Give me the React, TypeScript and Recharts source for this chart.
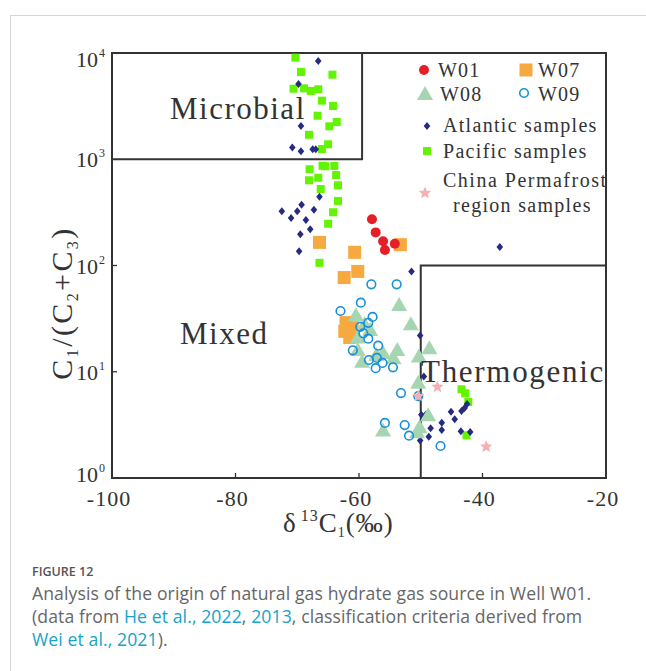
import React from 'react';
import { ScatterChart, Scatter, XAxis, YAxis, ReferenceArea } from 'recharts';

type Pt = { x: number; y: number };
const pts = (a: number[][]): Pt[] => a.map(([x, y]) => ({ x, y }));

// values: [δ13C1 (‰), C1/(C2+C3)]
const w01 = pts([[-57.9, 272], [-57.3, 205], [-56.1, 169], [-55.8, 140], [-54.2, 160]]);
const w07 = pts([
  [-66.4, 165], [-60.7, 133], [-53.3, 157], [-62.4, 77], [-60.2, 88],
  [-62.1, 29], [-61.1, 26], [-62.3, 24], [-61.5, 21],
]);
const w08 = pts([
  [-53.5, 42.5], [-51.6, 28], [-60.5, 34], [-58.2, 24.7], [-60.2, 16], [-57.2, 14.4],
  [-59.5, 12.4], [-56.1, 15], [-53.8, 16], [-54.4, 13.4], [-48.6, 16.6], [-50.3, 13.9],
  [-50.4, 7.9], [-48.8, 3.9], [-50.2, 3.0], [-50.6, 2.7], [-56.1, 2.8], [-59.1, 28], [-60.2, 21],
]);
const w09 = pts([
  [-58, 66.5], [-53.9, 66.5], [-59.7, 44.7], [-63, 37.3], [-57.8, 32.8], [-58.5, 28.9],
  [-59.8, 26.5], [-59.3, 23], [-58.5, 20.5], [-56.9, 17.6], [-61, 15.9], [-57.1, 13.5],
  [-58.4, 12.9], [-56.2, 12.1], [-57.3, 10.8], [-54.5, 11], [-53.2, 6.3], [-50.4, 5.9],
  [-55.8, 3.3], [-52.6, 3.15], [-51.9, 2.5], [-46.8, 2.0],
]);
const atlantic = pts([
  [-66.6, 8400], [-69.8, 5100], [-69.4, 2060], [-70.8, 1290], [-69.4, 1190], [-67.5, 1240],
  [-67, 1240], [-66.4, 444], [-69.3, 373], [-72.5, 324], [-70, 324], [-67.3, 335],
  [-71, 280], [-68.6, 268], [-67.9, 219], [-69.5, 197], [-69.7, 136], [-51.5, 88],
  [-37.2, 149], [-50.1, 21.9], [-50.1, 13.8], [-49.5, 9.0], [-49.9, 3.94], [-49.2, 3.94],
  [-48.4, 2.94], [-50.1, 2.26], [-48.7, 2.45], [-46.6, 3.31], [-46.6, 2.83], [-45.1, 4.2],
  [-44.5, 3.57], [-43.4, 4.27], [-42.9, 4.56], [-42.5, 4.97], [-43.5, 2.75], [-42, 2.71],
]);
const pacific = pts([
  [-70.3, 9040], [-69.4, 6620], [-64.3, 6250], [-70.6, 4610], [-68.9, 4650], [-67.8, 4390],
  [-66.6, 4550], [-66, 3560], [-64.2, 3170], [-66.7, 2570], [-64.8, 2040], [-63.6, 2240],
  [-68.1, 1700], [-65, 1383], [-66, 1248], [-65.9, 869], [-65.5, 859], [-64, 864],
  [-68, 804], [-63.7, 711], [-66.6, 670], [-68.1, 634], [-63.4, 569], [-66.2, 525],
  [-63.4, 405], [-64.2, 317], [-65, 247], [-66.4, 106], [-43.4, 6.84], [-42.8, 6.27],
  [-42.3, 5.19], [-42.6, 2.52],
]);
const permafrost = pts([[-47.3, 7.2], [-50.4, 5.9], [-39.4, 1.97]]);

const xTicks = [-100, -80, -60, -40, -20];
const yTicks = [1, 10, 100, 1000, 10000];

const serif = '"Liberation Serif", "DejaVu Serif", serif';
const ink = '#333';

const starPath = (cx: number, cy: number, r: number) => {
  const p: string[] = [];
  for (let i = 0; i < 10; i++) {
    const rr = i % 2 === 0 ? r : r * 0.45;
    const a = -Math.PI / 2 + (i * Math.PI) / 5;
    p.push(`${cx + rr * Math.cos(a)},${cy + rr * Math.sin(a)}`);
  }
  return 'M' + p.join('L') + 'Z';
};

const RedDot = ({ cx, cy }: any) => <circle cx={cx} cy={cy} r={5} fill="#e61e25" />;
const OrangeSq = ({ cx, cy }: any) => <rect x={cx - 6.5} y={cy - 6.5} width={13} height={13} fill="#f6a93e" />;
const GreenTri = ({ cx, cy }: any) => (
  <polygon points={`${cx},${cy - 8} ${cx + 8},${cy + 6} ${cx - 8},${cy + 6}`} fill="#a6d6b1" />
);
const BlueRing = ({ cx, cy }: any) => (
  <circle cx={cx} cy={cy} r={4.3} fill="none" stroke="#1a8fd9" strokeWidth={1.6} />
);
const Diamond = ({ cx, cy }: any) => (
  <polygon points={`${cx},${cy - 4} ${cx + 3.3},${cy} ${cx},${cy + 4} ${cx - 3.3},${cy}`} fill="#272b80" />
);
const LimeSq = ({ cx, cy }: any) => <rect x={cx - 4} y={cy - 4} width={8} height={8} fill="#62f400" />;
const PinkStar = ({ cx, cy }: any) => <path d={starPath(cx, cy, 6.5)} fill="#f3b1b5" />;

const XTick = ({ x, y, payload }: any) => {
  const v = payload.value;
  return (
    <g>
      {v > -100 && v < -20 && <line x1={x} x2={x} y1={y} y2={y - 5} stroke={ink} strokeWidth={1.3} />}
      <text x={x - 3} y={y + 28} textAnchor="middle" fontFamily={serif} fontSize={22} letterSpacing={1} fill={ink}>
        {v}
      </text>
    </g>
  );
};

const YTick = ({ x, y, payload }: any) => {
  const v = payload.value;
  const e = Math.round(Math.log10(v));
  const base = v === 1 ? y + 4 : v === 10000 ? y + 14 : y + 8;
  return (
    <g>
      {v > 1 && v < 1000 && <line x1={x} x2={x + 5} y1={y} y2={y} stroke={ink} strokeWidth={1.3} />}
      <text x={x - 14} y={base} textAnchor="end" fontFamily={serif} fontSize={22} fill={ink}>
        10
      </text>
      <text x={x - 13} y={base - 10} textAnchor="start" fontFamily={serif} fontSize={12} fill={ink}>
        {e}
      </text>
    </g>
  );
};

const Overlay = () => (
  <svg width={646} height={671} style={{ position: 'absolute', left: 0, top: 0, pointerEvents: 'none' }}>
    <g fontFamily={serif} fill={ink}>
      <text x={170} y={119} fontSize={31} letterSpacing={1.5}>Microbial</text>
      <text x={180} y={344} fontSize={31} letterSpacing={1.5}>Mixed</text>
      <text x={421} y={382} fontSize={31} letterSpacing={1.7}>Thermogenic</text>

      <RedDot cx={424} cy={70} />
      <text x={438} y={77} fontSize={20} letterSpacing={1.2}>W01</text>
      <OrangeSq cx={526} cy={70} />
      <text x={538} y={77} fontSize={20} letterSpacing={1.2}>W07</text>
      <GreenTri cx={425} cy={94} />
      <text x={440} y={101} fontSize={20} letterSpacing={1.2}>W08</text>
      <BlueRing cx={524} cy={93} />
      <text x={538} y={101} fontSize={20} letterSpacing={1.2}>W09</text>
      <Diamond cx={427} cy={126} />
      <text x={443} y={132} fontSize={20} letterSpacing={1.3}>Atlantic samples</text>
      <LimeSq cx={427} cy={151} />
      <text x={443} y={158} fontSize={20} letterSpacing={1.3}>Pacific samples</text>
      <PinkStar cx={425} cy={193} />
      <text x={443} y={187} fontSize={20} letterSpacing={1.5}>China Permafrost</text>
      <text x={453} y={212} fontSize={20} letterSpacing={1.3}>region samples</text>

      <text transform="translate(72,303) rotate(-90)" textAnchor="middle" fontSize={30} letterSpacing={2.4}>
        <tspan>C</tspan>
        <tspan fontSize={16} dy={6}>1</tspan>
        <tspan dy={-6}>/(C</tspan>
        <tspan fontSize={16} dy={6}>2</tspan>
        <tspan dy={-6}>+C</tspan>
        <tspan fontSize={16} dy={6}>3</tspan>
        <tspan dy={-6}>)</tspan>
      </text>

      <text x={283} y={532} fontSize={27} letterSpacing={1}>
        <tspan>δ</tspan>
        <tspan dx={4} dy={-11} fontSize={16}>13</tspan>
        <tspan dy={11}>C</tspan>
        <tspan dy={5} fontSize={14}>1</tspan>
        <tspan dy={-5}>(‰)</tspan>
      </text>
    </g>

    <g fontFamily='"Open Sans", sans-serif'>
      <text x={32} y={576} fontSize={12.5} fontWeight={600} fill="#555">FIGURE 12</text>
      <text x={32} y={600} fontSize={17.6} letterSpacing={0.1} fill="#666">
        Analysis of the origin of natural gas hydrate gas source in Well W01.
      </text>
      <text x={32} y={623} fontSize={17.6} letterSpacing={0.1} fill="#666">
        <tspan>(data from </tspan>
        <tspan fill="#16a3c7">He et al., 2022</tspan>
        <tspan>, </tspan>
        <tspan fill="#16a3c7">2013</tspan>
        <tspan>, classification criteria derived from</tspan>
      </text>
      <text x={32} y={646} fontSize={17.6} letterSpacing={0.1} fill="#666">
        <tspan fill="#16a3c7">Wei et al., 2021</tspan>
        <tspan>).</tspan>
      </text>
    </g>
  </svg>
);

export default function App() {
  return (
    <div style={{ position: 'absolute', left: 0, top: 0, width: 646, height: 671, background: '#fff', overflow: 'hidden' }}>
      <div
        style={{
          position: 'absolute', left: 10, top: 15, right: -2, bottom: -2,
          borderLeft: '1px solid #d6d6d6', borderTop: '1px solid #d6d6d6',
        }}
      />
      <div style={{ position: 'absolute', left: 0, top: 0 }}>
        <ScatterChart width={646} height={540} margin={{ top: 53, right: 40, bottom: 22, left: 32 }}>
          <XAxis
            type="number" dataKey="x" domain={[-100, -20]} ticks={xTicks} interval={0} allowDataOverflow
            height={40} axisLine={{ stroke: ink, strokeWidth: 2 }} tickLine={false} tickSize={0} tickMargin={0}
            tick={XTick}
          />
          <YAxis
            type="number" dataKey="y" scale="log" domain={[1, 10000]} ticks={yTicks} interval={0} allowDataOverflow
            width={80} axisLine={{ stroke: ink, strokeWidth: 2 }} tickLine={false} tickSize={0} tickMargin={0}
            tick={YTick}
          />
          <ReferenceArea x1={-100} x2={-20} y1={1} y2={10000} fill="none" stroke={ink} strokeWidth={2} />
          <ReferenceArea x1={-100} x2={-59.5} y1={1000} y2={10000} fill="none" stroke={ink} strokeWidth={2} />
          <ReferenceArea x1={-50} x2={-20} y1={1} y2={100} fill="none" stroke={ink} strokeWidth={2} />
          <Scatter data={pacific} shape={LimeSq} isAnimationActive={false} />
          <Scatter data={atlantic} shape={Diamond} isAnimationActive={false} />
          <Scatter data={w07} shape={OrangeSq} isAnimationActive={false} />
          <Scatter data={w08} shape={GreenTri} isAnimationActive={false} />
          <Scatter data={w09} shape={BlueRing} isAnimationActive={false} />
          <Scatter data={w01} shape={RedDot} isAnimationActive={false} />
          <Scatter data={permafrost} shape={PinkStar} isAnimationActive={false} />
        </ScatterChart>
      </div>
      <Overlay />
    </div>
  );
}
